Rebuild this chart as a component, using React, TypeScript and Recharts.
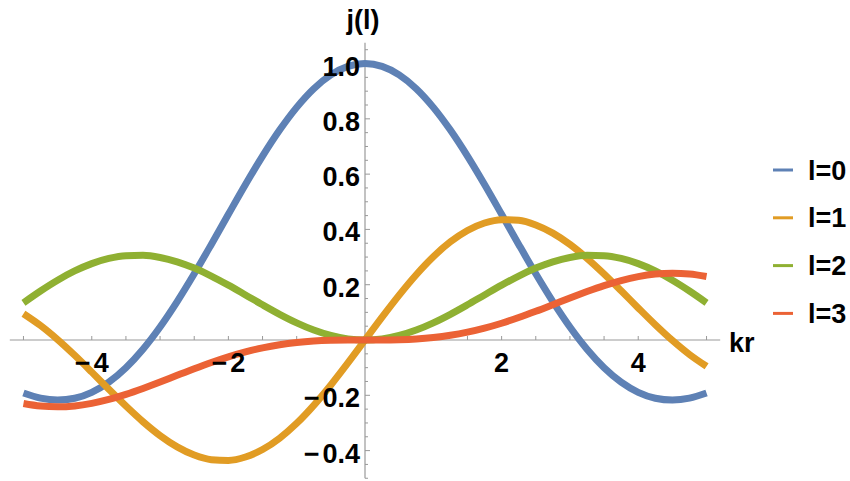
import React from 'react';
import { LineChart, Line, XAxis, YAxis, ReferenceLine, ReferenceDot } from 'recharts';

// kr values (x)
const kr = [
  -5, -4.75, -4.5, -4.25, -4, -3.75, -3.5, -3.25, -3, -2.75, -2.5, -2.25, -2, -1.75, -1.5, -1.25, -1, -0.75, -0.5, -0.25,
  0, 0.25, 0.5, 0.75, 1, 1.25, 1.5, 1.75, 2, 2.25, 2.5, 2.75, 3, 3.25, 3.5, 3.75, 4, 4.25, 4.5, 4.75, 5,
];

const l0 = [
  -0.1918, -0.2104, -0.2172, -0.2106, -0.1892, -0.1524, -0.1002, -0.0333, 0.047, 0.1388, 0.2394, 0.3458, 0.4546, 0.5623,
  0.665, 0.7592, 0.8415, 0.9089, 0.9589, 0.9896, 1, 0.9896, 0.9589, 0.9089, 0.8415, 0.7592, 0.665, 0.5623, 0.4546,
  0.3458, 0.2394, 0.1388, 0.047, -0.0333, -0.1002, -0.1524, -0.1892, -0.2106, -0.2172, -0.2104, -0.1918,
];

const l1 = [
  0.0951, 0.0522, 0.0014, -0.0554, -0.1161, -0.1782, -0.2389, -0.2956, -0.3457, -0.3866, -0.4162, -0.4329, -0.4354,
  -0.4232, -0.3962, -0.3551, -0.3012, -0.2362, -0.1625, -0.0828, 0, 0.0828, 0.1625, 0.2362, 0.3012, 0.3551, 0.3962,
  0.4232, 0.4354, 0.4329, 0.4162, 0.3866, 0.3457, 0.2956, 0.2389, 0.1782, 0.1161, 0.0554, -0.0014, -0.0522, -0.0951,
];

const l2 = [
  0.1347, 0.1774, 0.2163, 0.2497, 0.2763, 0.295, 0.305, 0.3062, 0.2986, 0.2829, 0.2601, 0.2314, 0.1984, 0.1631, 0.1273,
  0.093, 0.062, 0.036, 0.0164, 0.0042, 0, 0.0042, 0.0164, 0.036, 0.062, 0.093, 0.1273, 0.1631, 0.1984, 0.2314, 0.2601,
  0.2829, 0.2986, 0.3062, 0.305, 0.295, 0.2763, 0.2497, 0.2163, 0.1774, 0.1347,
];

const l3 = [
  -0.2298, -0.2389, -0.2417, -0.2384, -0.2292, -0.2151, -0.1968, -0.1754, -0.1521, -0.1278, -0.1039, -0.0813, -0.0607,
  -0.0429, -0.0283, -0.017, -0.009, -0.0039, -0.0012, -0.0001, 0, 0.0001, 0.0012, 0.0039, 0.009, 0.017, 0.0283, 0.0429,
  0.0607, 0.0813, 0.1039, 0.1278, 0.1521, 0.1754, 0.1968, 0.2151, 0.2292, 0.2384, 0.2417, 0.2389, 0.2298,
];

const seriesKeys = ['l0', 'l1', 'l2', 'l3'];
const seriesNames = ['l=0', 'l=1', 'l=2', 'l=3'];
const seriesColors = ['#5E81B5', '#E19C24', '#8FB032', '#EB6235'];

const xTickPositions = [-5, -4.5, -4, -3.5, -3, -2.5, -2, -1.5, -1, -0.5, 0.5, 1, 1.5, 2, 2.5, 3, 3.5, 4, 4.5, 5];
const xLabelPositions = [-4, -2, 2, 4];
const xLabelTexts = ['\u22124', '\u22122', '2', '4'];

const yTickPositions = [
  -0.5, -0.45, -0.4, -0.35, -0.3, -0.25, -0.2, -0.15, -0.1, -0.05, 0.05, 0.1, 0.15, 0.2, 0.25, 0.3, 0.35, 0.4, 0.45,
  0.5, 0.55, 0.6, 0.65, 0.7, 0.75, 0.8, 0.85, 0.9, 0.95, 1, 1.05,
];
const yMajorPositions = [-0.4, -0.2, 0.2, 0.4, 0.6, 0.8, 1.0];
const yLabelTexts = ['\u22120.4', '\u22120.2', '0.2', '0.4', '0.6', '0.8', '1.0'];

const xAxisLabel = 'kr';
const yAxisLabel = 'j(l)';

const data = kr.map((x, i) => ({ kr: x, l0: l0[i], l1: l1[i], l2: l2[i], l3: l3[i] }));

const X_DOMAIN: [number, number] = [-5.2, 5.2];
const Y_DOMAIN: [number, number] = [-0.5, 1.075];
const PX_PER_X = 68.3;
const PX_PER_Y = 276.5;
const AXIS_COLOR = '#999999';
const FONT = '"Liberation Sans", Arial, sans-serif';
const FS = 27;

const isMajorY = (v: number) => yMajorPositions.some((m) => Math.abs(m - v) < 1e-9);

// render a label, giving the minus sign a little extra room like the original
const labelContent = (s: string) => {
  if (s.startsWith('\u2212')) {
    return (
      <>
        <tspan>{'\u2212'}</tspan>
        <tspan dx={3}>{s.slice(1)}</tspan>
      </>
    );
  }
  return s;
};

export default function App() {
  return (
    <div style={{ position: 'absolute', left: 0, top: 0, width: 850, height: 481, background: '#fff' }}>
      <LineChart
        width={850}
        height={481}
        data={data}
        margin={{ top: 42.8, right: 129.8, bottom: 2.75, left: 9.8 }}
      >
        <XAxis dataKey="kr" type="number" domain={X_DOMAIN} hide allowDataOverflow />
        <YAxis type="number" domain={Y_DOMAIN} hide allowDataOverflow />
        <ReferenceLine y={0} stroke={AXIS_COLOR} strokeWidth={1.2} />
        <ReferenceLine x={0} stroke={AXIS_COLOR} strokeWidth={1.2} />
        {xTickPositions.map((t) => (
          <ReferenceLine
            key={'xt' + t}
            segment={[
              { x: t, y: 0 },
              { x: t, y: 4 / PX_PER_Y },
            ]}
            stroke={AXIS_COLOR}
            strokeWidth={1}
          />
        ))}
        {yTickPositions.map((t) => (
          <ReferenceLine
            key={'yt' + t}
            segment={[
              { x: 0, y: t },
              { x: (isMajorY(t) ? 5 : 3) / PX_PER_X, y: t },
            ]}
            stroke={AXIS_COLOR}
            strokeWidth={1}
          />
        ))}
        {seriesKeys.map((k, i) => (
          <Line
            key={k}
            dataKey={k}
            type="monotone"
            stroke={seriesColors[i]}
            strokeWidth={7}
            dot={false}
            isAnimationActive={false}
          />
        ))}
        {xLabelPositions.map((t, i) => (
          <ReferenceDot
            key={'xl' + t}
            x={t}
            y={0}
            r={0}
            shape={(p: any) => (
              <text
                x={p.cx}
                y={p.cy + 31.5}
                textAnchor="middle"
                fontFamily={FONT}
                fontWeight="bold"
                fontSize={FS}
                fill="#000"
              >
                {labelContent(xLabelTexts[i])}
              </text>
            )}
          />
        ))}
        {yMajorPositions.map((t, i) => (
          <ReferenceDot
            key={'yl' + t}
            x={0}
            y={t}
            r={0}
            shape={(p: any) => (
              <text
                x={p.cx - 5}
                y={p.cy + 12}
                textAnchor="end"
                fontFamily={FONT}
                fontWeight="bold"
                fontSize={FS}
                fill="#000"
              >
                {labelContent(yLabelTexts[i])}
              </text>
            )}
          />
        ))}
      </LineChart>
      <svg
        width={850}
        height={481}
        style={{ position: 'absolute', left: 0, top: 0, pointerEvents: 'none' }}
      >
        <text x={363} y={29} textAnchor="middle" fontFamily={FONT} fontWeight="bold" fontSize={FS} fill="#000">
          {yAxisLabel}
        </text>
        <text x={729} y={351.5} textAnchor="start" fontFamily={FONT} fontWeight="bold" fontSize={FS} fill="#000">
          {xAxisLabel}
        </text>
        {seriesNames.map((name, i) => {
          const cy = 170 + i * 47.8;
          return (
            <g key={name}>
              <line x1={773} x2={793} y1={cy} y2={cy} stroke={seriesColors[i]} strokeWidth={3} />
              <text x={808} y={cy + 9.5} fontFamily={FONT} fontWeight="bold" fontSize={FS} fill="#000">
                {name}
              </text>
            </g>
          );
        })}
      </svg>
    </div>
  );
}
